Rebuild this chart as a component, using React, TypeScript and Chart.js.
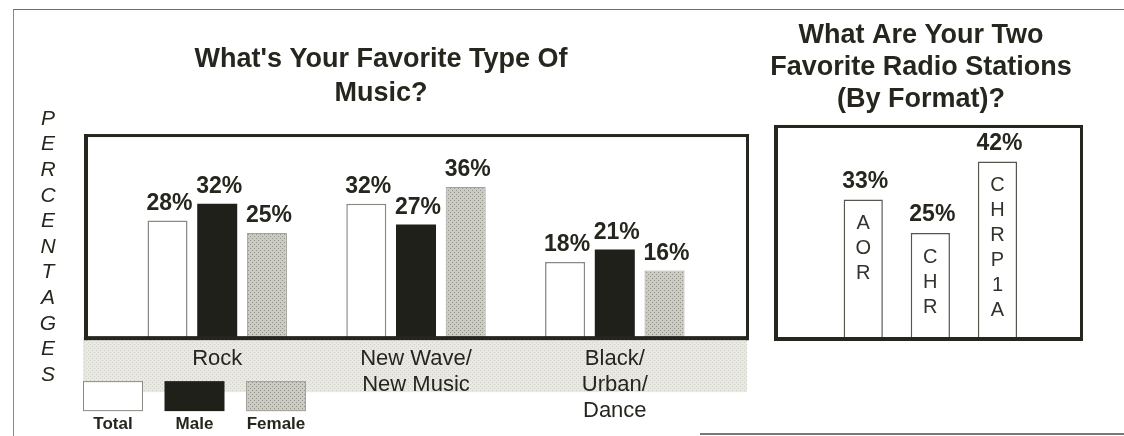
import React, { useEffect, useRef } from "react";
import { Chart, registerables } from "chart.js";

Chart.register(...registerables);

// ---------- data ----------
const musicCategories: string[][] = [["Rock"], ["New Wave/", "New Music"], ["Black/", "Urban/", "Dance"]];
const seriesNames = ["Total", "Male", "Female"];
const totalValues = [28, 32, 18];
const maleValues = [32, 27, 21];
const femaleValues = [25, 36, 16];
const musicTitle = ["What's Your Favorite Type Of", "Music?"];
const yAxisWord = "PERCENTAGES";

const stationFormats = ["AOR", "CHR", "CHRP1A"];
const stationValues = [33, 25, 42];
const stationTitle = ["What Are Your Two", "Favorite Radio Stations", "(By Format)?"];

// ---------- style ----------
const FONT = "'Liberation Sans', Arial, Helvetica, sans-serif";
const INK = "#26261f";

function makeDots(bg: string, dot: string): CanvasPattern | string {
  const c = document.createElement("canvas");
  c.width = 4;
  c.height = 4;
  const g = c.getContext("2d");
  if (!g) return bg;
  g.fillStyle = bg;
  g.fillRect(0, 0, 4, 4);
  g.fillStyle = dot;
  g.fillRect(0, 0, 1, 1);
  g.fillRect(2, 2, 1, 1);
  return g.createPattern(c, "repeat") || bg;
}

function drawFrame(ctx: CanvasRenderingContext2D, a: any, thickLeft: number, thickBottom: number, thin: number) {
  ctx.save();
  ctx.fillStyle = INK;
  const w = a.right - a.left;
  const h = a.bottom - a.top;
  ctx.fillRect(a.left - thickLeft, a.top - thin, thickLeft, h + thin + thickBottom - 1);
  ctx.fillRect(a.left - thickLeft, a.top - thin, w + thickLeft + thin, thin);
  ctx.fillRect(a.right, a.top - thin, thin, h + thin + thickBottom - 1);
  ctx.fillRect(a.left - thickLeft, a.bottom - 1, w + thickLeft + thin, thickBottom);
  ctx.restore();
}

export default function App() {
  const leftRef = useRef<HTMLCanvasElement>(null);
  const rightRef = useRef<HTMLCanvasElement>(null);

  useEffect(() => {
    if (!leftRef.current || !rightRef.current) return;
    const femaleFill = makeDots("#cbcbc3", "#94948c");
    const bandFill = makeDots("#e9e9e4", "#cfcfc8");

    const seriesValues = [totalValues, maleValues, femaleValues];
    const seriesBg: any[] = ["#ffffff", "#1f201a", femaleFill];
    const seriesBorder = ["#8a8a84", "#1f201a", "#a2a29a"];
    const seriesBorderW = [1.5, 0, 1];

    const leftPlugin = {
      id: "leftDecor",
      beforeDraw(chart: any) {
        const { ctx, chartArea: a } = chart;
        ctx.save();
        ctx.fillStyle = bandFill;
        ctx.fillRect(a.left - 5, a.bottom, a.right - a.left + 6, 55);
        ctx.restore();
      },
      afterDatasetsDraw(chart: any) {
        const { ctx, chartArea: a } = chart;
        drawFrame(ctx, a, 4, 4, 3);
        ctx.save();
        ctx.fillStyle = INK;
        ctx.font = `bold 23px ${FONT}`;
        ctx.textAlign = "center";
        ctx.textBaseline = "middle";
        chart.data.datasets.forEach((ds: any, d: number) => {
          const meta = chart.getDatasetMeta(d);
          meta.data.forEach((el: any, i: number) => {
            ctx.fillText(`${seriesValues[d][i]}%`, el.x + 2, el.y - 17);
          });
        });
        ctx.restore();
      },
      afterDraw(chart: any) {
        const { ctx, chartArea: a } = chart;
        ctx.save();
        // vertical axis word
        ctx.fillStyle = INK;
        ctx.font = `italic 21px ${FONT}`;
        ctx.textAlign = "center";
        ctx.textBaseline = "middle";
        yAxisWord.split("").forEach((ch, k) => {
          ctx.fillText(ch, a.left - 40, a.top - 18 + k * 25.6);
        });
        // legend
        chart.data.datasets.forEach((ds: any, d: number) => {
          const x0 = a.left - 5 + d * 81.5;
          const y0 = a.bottom + 44;
          ctx.fillStyle = ds.backgroundColor;
          ctx.fillRect(x0, y0, 60, 30);
          if (ds.borderWidth > 0) {
            ctx.strokeStyle = ds.borderColor;
            ctx.lineWidth = 1;
            ctx.strokeRect(x0 + 0.5, y0 + 0.5, 59, 29);
          }
          ctx.fillStyle = INK;
          ctx.font = `bold 17px ${FONT}`;
          ctx.fillText(ds.label, x0 + 30, a.bottom + 87);
        });
        ctx.restore();
      },
    };

    const left = new Chart(leftRef.current, {
      type: "bar",
      data: {
        datasets: seriesNames.map((name, d) => ({
          label: name,
          data: seriesValues[d].map((v, i) => ({ x: i, y: v })),
          backgroundColor: seriesBg[d],
          borderColor: seriesBorder[d],
          borderWidth: seriesBorderW[d],
          categoryPercentage: 0.75,
          barPercentage: 0.805,
        })),
      },
      options: {
        responsive: false,
        animation: false,
        layout: { padding: { bottom: 3, right: 3 } },
        plugins: {
          legend: { display: false },
          tooltip: { enabled: false },
          title: {
            display: true,
            text: musicTitle,
            color: INK,
            font: { family: FONT, size: 27, weight: "bold", lineHeight: 1.26 },
            padding: { top: 33, bottom: 26 },
          },
        },
        scales: {
          x: {
            type: "linear",
            min: -0.65,
            max: 2.66,
            offset: false,
            grid: { display: false, drawTicks: false },
            border: { display: false },
            afterBuildTicks: (s: any) => {
              s.ticks = musicCategories.map((_, i) => ({ value: i }));
            },
            ticks: {
              autoSkip: false,
              maxRotation: 0,
              padding: 9,
              color: INK,
              font: { family: FONT, size: 22, lineHeight: 1.18 },
              callback: (v: any) => musicCategories[v] ?? "",
            },
          },
          y: {
            min: 0,
            max: 48,
            ticks: { display: false },
            grid: { display: false, drawTicks: false },
            border: { display: false },
            afterFit: (s: any) => {
              s.width = 72;
            },
          },
        },
      } as any,
      plugins: [leftPlugin],
    });

    const rightPlugin = {
      id: "rightDecor",
      afterDatasetsDraw(chart: any) {
        const { ctx, chartArea: a } = chart;
        drawFrame(ctx, a, 4, 4, 3);
        ctx.save();
        ctx.textAlign = "center";
        ctx.textBaseline = "middle";
        const meta = chart.getDatasetMeta(0);
        meta.data.forEach((el: any, i: number) => {
          ctx.fillStyle = INK;
          ctx.font = `bold 23px ${FONT}`;
          ctx.fillText(`${stationValues[i]}%`, el.x + 2, el.y - 18);
          ctx.fillStyle = "#33332c";
          ctx.font = `20px ${FONT}`;
          stationFormats[i].split("").forEach((ch, k) => {
            ctx.fillText(ch, el.x, el.y + 24 + k * 25);
          });
        });
        ctx.restore();
      },
    };

    const right = new Chart(rightRef.current, {
      type: "bar",
      data: {
        datasets: [
          {
            label: "Formats",
            data: stationValues.map((v, i) => ({ x: i, y: v })),
            backgroundColor: "#ffffff",
            borderColor: "#55554e",
            borderWidth: 1.5,
            categoryPercentage: 0.73,
            barPercentage: 0.8,
          },
        ],
      },
      options: {
        responsive: false,
        animation: false,
        layout: { padding: { bottom: 98, right: 3 } },
        plugins: {
          legend: { display: false },
          tooltip: { enabled: false },
          title: {
            display: true,
            text: stationTitle,
            color: INK,
            font: { family: FONT, size: 27, weight: "bold", lineHeight: 1.185 },
            padding: { top: 10, bottom: 12 },
          },
        },
        scales: {
          x: {
            type: "linear",
            display: false,
            min: -1.27,
            max: 3.23,
            offset: false,
            afterBuildTicks: (s: any) => {
              s.ticks = stationFormats.map((_, i) => ({ value: i }));
            },
          },
          y: {
            min: 0,
            max: 50,
            ticks: { display: false },
            grid: { display: false, drawTicks: false },
            border: { display: false },
            afterFit: (s: any) => {
              s.width = 16;
            },
          },
        },
      } as any,
      plugins: [rightPlugin],
    });

    return () => {
      left.destroy();
      right.destroy();
    };
  }, []);

  return (
    <div style={{ position: "absolute", left: 0, top: 0, width: 1124, height: 436, background: "#ffffff", overflow: "hidden" }}>
      <div
        style={{
          position: "absolute",
          left: 13,
          top: 9,
          width: 1120,
          height: 430,
          borderLeft: "1px solid #8a8a84",
          borderTop: "1px solid #6e6e68",
        }}
      />
      <div style={{ position: "absolute", left: 700, top: 433, width: 424, height: 0, borderTop: "2px solid #7a7a74" }} />
      <canvas ref={leftRef} width={733} height={426} style={{ position: "absolute", left: 16, top: 10 }} />
      <canvas ref={rightRef} width={321} height={426} style={{ position: "absolute", left: 762, top: 10 }} />
    </div>
  );
}
